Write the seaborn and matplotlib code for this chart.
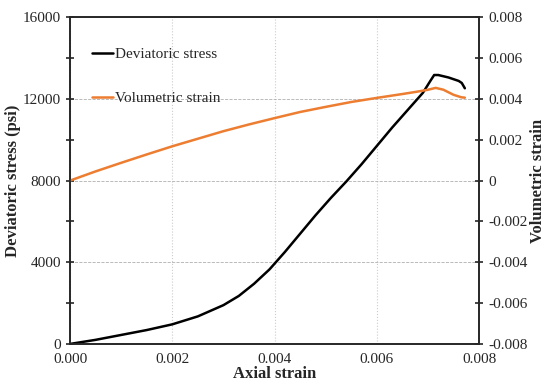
import matplotlib
matplotlib.use("Agg")
import matplotlib.pyplot as plt
import seaborn as sns
import pandas as pd
from matplotlib.ticker import MultipleLocator

# Values
axial_stress = [0.0, 0.0005, 0.001, 0.0015, 0.002, 0.0025, 0.003, 0.0033, 0.0036,
                0.0039, 0.0042, 0.0045, 0.0048, 0.0051, 0.0054, 0.0057, 0.006,
                0.0063, 0.0066, 0.0069, 0.00705, 0.00712, 0.0072, 0.0074, 0.0076,
                0.00766, 0.00772]
dev_stress = [0, 200, 440, 680, 960, 1350, 1900, 2350, 2950,
              3650, 4500, 5400, 6300, 7150, 7950, 8800, 9700,
              10600, 11450, 12300, 12900, 13170, 13170, 13050, 12880,
              12780, 12520]

axial_vol = [0.0, 0.0005, 0.001, 0.0015, 0.002, 0.0025, 0.003, 0.0035, 0.004,
             0.0045, 0.005, 0.0055, 0.006, 0.0065, 0.0068, 0.007, 0.00715,
             0.0073, 0.0075, 0.00765, 0.00772]
vol_strain = [0.0, 0.00045, 0.00087, 0.00128, 0.00168, 0.00205, 0.00242, 0.00275, 0.00306,
              0.00336, 0.00361, 0.00385, 0.00405, 0.00424, 0.00436, 0.00445, 0.00454,
              0.00445, 0.0042, 0.00408, 0.00406]

stress_df = pd.DataFrame({"Axial strain": axial_stress, "Deviatoric stress": dev_stress})
vol_df = pd.DataFrame({"Axial strain": axial_vol, "Volumetric strain": vol_strain})

sns.set_style("white")
plt.rcParams["font.family"] = ["Liberation Serif", "DejaVu Serif"]

fig, ax = plt.subplots(figsize=(5.47, 3.83), dpi=100)
ax2 = ax.twinx()

sns.lineplot(data=stress_df, x="Axial strain", y="Deviatoric stress", ax=ax,
             color="black", linewidth=1.8, label="Deviatoric stress", legend=False)
sns.lineplot(data=vol_df, x="Axial strain", y="Volumetric strain", ax=ax2,
             color="#ED7D31", linewidth=1.8, label="Volumetric strain", legend=False)

ax.set_xlim(0, 0.008)
ax.set_ylim(0, 16000)
ax2.set_ylim(-0.008, 0.008)

ax.xaxis.set_major_locator(MultipleLocator(0.002))
ax.xaxis.set_minor_locator(MultipleLocator(0.001))
ax.yaxis.set_major_locator(MultipleLocator(4000))
ax.yaxis.set_minor_locator(MultipleLocator(2000))
ax2.yaxis.set_major_locator(MultipleLocator(0.002))

ax.set_xticklabels([f"{v:.3f}" for v in ax.get_xticks()])
ax.set_yticklabels([f"{int(v)}" for v in ax.get_yticks()])
ax2.set_yticklabels(["0" if abs(v) < 1e-12 else f"{v:.3f}" for v in ax2.get_yticks()])

ax.grid(True, which="major", axis="y", color="#b0b0b0", linestyle="--", linewidth=0.6)
ax.grid(True, which="major", axis="x", color="#cccccc", linestyle=":", linewidth=0.8)

ax.tick_params(axis="both", which="both", direction="inout", labelsize=11, width=1.2)
ax.tick_params(which="major", length=6)
ax.tick_params(which="minor", length=6)
ax2.tick_params(axis="y", direction="inout", labelsize=11, length=6, width=1.2)

for spine in ax.spines.values():
    spine.set_linewidth(1.2)
for spine in ax2.spines.values():
    spine.set_linewidth(1.2)

ax.set_xlabel("Axial strain", fontsize=12, fontweight="bold", labelpad=0)
ax.set_ylabel("Deviatoric stress (psi)", fontsize=12, fontweight="bold", labelpad=1)
ax2.set_ylabel("Volumetric strain", fontsize=12, fontweight="bold", labelpad=2)

h1, l1 = ax.get_legend_handles_labels()
h2, l2 = ax2.get_legend_handles_labels()
ax.legend(h1 + h2, l1 + l2, loc="upper left", frameon=False, fontsize=11,
          handlelength=1.4, handletextpad=0.1, labelspacing=2.0,
          bbox_to_anchor=(0.02, 0.95))

fig.subplots_adjust(left=0.128, right=0.876, top=0.955, bottom=0.102)
fig.savefig("out.png", dpi=100)
